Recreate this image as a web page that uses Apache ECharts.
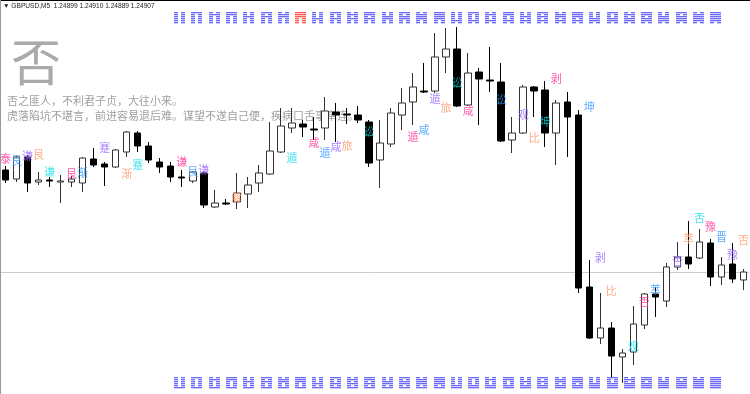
<!DOCTYPE html>
<html><head><meta charset="utf-8">
<script src="https://cdn.jsdelivr.net/npm/echarts@6/dist/echarts.min.js"></script>
<style>html,body{margin:0;padding:0;background:#fff}#c{width:750px;height:394px}</style>
</head><body><div id="c"></div>
<script>
// GBPUSD M5 candles
const opens = [1.25009,1.25000,1.25022,1.24997,1.24999,1.24997,1.24997,1.24996,1.25020,1.25015,
1.25012,1.25027,1.25046,1.25033,1.25017,1.25013,1.25002,1.24998,1.25006,1.24972,
1.24976,1.24977,1.24985,1.24996,1.25005,1.25027,1.25051,1.25055,1.25050,1.25051,
1.25067,1.25065,1.25064,1.25057,1.25019,1.25035,1.25064,1.25077,1.25088,1.25088,
1.25122,1.25130,1.25074,1.25107,1.25099,1.25097,1.25039,1.25046,1.25092,1.25089,
1.25046,1.25077,1.25064,1.24892,1.24841,1.24851,1.24822,1.24827,1.24854,1.24885,
1.24878,1.24912,1.24922,1.24921,1.24936,1.24902,1.24915,1.24899];
const closes = [1.24999,1.25022,1.24996,1.24999,1.24998,1.24998,1.25000,1.25021,1.25014,1.25012,
1.25029,1.25047,1.25033,1.25019,1.25012,1.25002,1.25001,1.25007,1.24974,1.24976,
1.24975,1.24986,1.24994,1.25006,1.25028,1.25053,1.25056,1.25052,1.25049,1.25068,
1.25064,1.25064,1.25059,1.25016,1.25036,1.25066,1.25076,1.25092,1.25087,1.25122,
1.25130,1.25073,1.25106,1.25100,1.25098,1.25038,1.25046,1.25092,1.25088,1.25046,
1.25076,1.25062,1.24891,1.24841,1.24851,1.24823,1.24826,1.24855,1.24885,1.24882,
1.24912,1.24922,1.24915,1.24937,1.24902,1.24914,1.24900,1.24907];
const lows = [1.24996,1.24997,1.24987,1.24994,1.24992,1.24976,1.24992,1.24987,1.25012,1.24993,
1.25011,1.25022,1.25027,1.25016,1.25006,1.24997,1.24992,1.24996,1.24971,1.24971,
1.24974,1.24970,1.24971,1.24987,1.25004,1.25026,1.25046,1.25042,1.25039,1.25039,
1.25037,1.25055,1.25056,1.25012,1.24991,1.25032,1.25049,1.25054,1.25086,1.25086,
1.25106,1.25072,1.25073,1.25054,1.25087,1.25037,1.25026,1.25045,1.25062,1.25032,
1.25014,1.25022,1.24886,1.24840,1.24835,1.24796,1.24796,1.24814,1.24850,1.24862,
1.24872,1.24909,1.24910,1.24920,1.24893,1.24894,1.24896,1.24889];
const highs = [1.25013,1.25023,1.25024,1.25007,1.25002,1.25004,1.25003,1.25022,1.25031,1.25017,
1.25030,1.25048,1.25048,1.25037,1.25021,1.25017,1.25009,1.25008,1.25008,1.24989,
1.24980,1.25006,1.25002,1.25014,1.25057,1.25071,1.25071,1.25059,1.25062,1.25082,
1.25076,1.25071,1.25073,1.25059,1.25059,1.25071,1.25091,1.25106,1.25116,1.25146,
1.25151,1.25152,1.25126,1.25111,1.25132,1.25116,1.25062,1.25094,1.25093,1.25098,
1.25079,1.25087,1.25069,1.24919,1.24886,1.24857,1.24830,1.24873,1.24886,1.24892,
1.24916,1.24937,1.24958,1.24950,1.24940,1.24922,1.24936,1.24910];

// hexagram name labels: candle index, text, price level
const labelIdx = [0,1,2,3,4,6,7,9,11,12,16,17,18,21,26,28,29,30,31,33,37,38,39,40,41,42,45,47,48,49,50,53,54,55,57,58,59,61,62,63,64,65,66,67];
const labelText = ['泰','艮','谦','艮','谦','艮','渐','蹇','渐','蹇','谦','艮','谦','解','遁','咸','遁','咸','旅','讼','遁','咸','遁','旅','讼','咸','讼','观','比','坤','剥','坤','剥','比','观','否','萃','否','萃','否','豫','晋','豫','否'];
const labelPrice = [1.25020,1.25018,1.25023,1.25024,1.25007,1.25005,1.25006,1.25031,1.25005,1.25014,1.25017,1.25007,1.25009,1.24981,1.25021,1.25036,1.25026,1.25032,1.25033,1.25047,1.25042,1.25049,1.25080,1.25071,1.25096,1.25068,1.25079,1.25064,1.25041,1.25057,1.25100,1.25072,1.24921,1.24888,1.24832,1.24877,1.24889,1.24918,1.24940,1.24961,1.24952,1.24942,1.24924,1.24939];

const headerText = '▼ GBPUSD,M5  1.24899 1.24910 1.24889 1.24907';
const bigChar = '否';
const verse1 = '否之匪人，不利君子贞，大往小来。';
const verse2 = '虎落陷坑不堪言，前进容易退后难。谋望不遂自己便，疾病口舌事牵连。';
const currentHex = 7;

const chart = echarts.init(document.getElementById('c'), null, {renderer:'canvas'});
const cats = opens.map((_, i) => String(i));
const candleData = opens.map((o, i) => [o, closes[i], lows[i], highs[i]]);
const palette = ['#ff3399','#3399ff','#9966ff','#ff9966','#18dde8'];
const labelData = labelIdx.map((x, k) => ({value:[x, labelPrice[k]], name: labelText[k], label:{color: palette[k % 5]}}));

const graphics = [];
graphics.push({type:'text', x:3, y:6, z:0, silent:true, style:{text:headerText, fontSize:6.6, fontFamily:'Liberation Sans', fill:'#222', verticalAlign:'middle'}});
graphics.push({type:'text', x:11, y:62, z:0, silent:true, style:{text:bigChar, fontSize:50, fontFamily:'Noto Sans CJK SC', fill:'#aaaaaa', verticalAlign:'middle'}});
graphics.push({type:'text', x:7, y:101, z:0, silent:true, style:{text:verse1, fontSize:11, fontFamily:'Noto Sans CJK SC', fill:'#a0a0a0', verticalAlign:'middle'}});
graphics.push({type:'text', x:7, y:116, z:0, silent:true, style:{text:verse2, fontSize:11, fontFamily:'Noto Sans CJK SC', fill:'#a0a0a0', verticalAlign:'middle'}});
graphics.push({type:'rect', z:100, silent:true, shape:{x:0,y:0,width:750,height:1}, style:{fill:'#000'}});
graphics.push({type:'rect', z:100, silent:true, shape:{x:0,y:0,width:1,height:394}, style:{fill:'#999'}});

function hex(v, x0, y0, hot) {
  const dark = hot ? '#ff5a5a' : '#6a6af6';
  const light = hot ? '#ffc4c4' : '#cdcdff';
  graphics.push({type:'rect', silent:true, z:50, shape:{x:x0, y:y0, width:11, height:12}, style:{fill:light}});
  for (let j = 0; j < 6; j++) {
    const yang = (v >> j) & 1;
    const y = y0 + 2 * j;
    graphics.push({type:'rect', silent:true, z:51, shape:{x:x0, y:y, width:11, height:1}, style:{fill:dark}});
    if (!yang) graphics.push({type:'rect', silent:true, z:52, shape:{x:x0 + 4, y:y, width:3, height:2}, style:{fill:'#ffffff'}});
  }
}
for (let k = 0; k < 32; k++) {
  const x = Math.round(174 + 17.3 * k);
  hex(k, x, 12, k === currentHex);
  hex(32 + k, x, 377, false);
}

chart.setOption({
  animation: false,
  backgroundColor: '#ffffff',
  grid: {left: -4, right: 1, top: 0, bottom: 0},
  xAxis: {type:'category', data: cats, show: false, boundaryGap: true},
  yAxis: {type:'value', min: 1.24785, max: 1.25179, show: false, scale: true},
  graphic: {elements: graphics},
  series: [
    {type:'candlestick', data: candleData, barWidth: 7, z: 3,
     itemStyle: {color:'#ffffff', color0:'#000000', borderColor:'#333333', borderColor0:'#000000', borderWidth:1},
     markLine: {silent:true, symbol:'none', precision:5, z:1, label:{show:false}, lineStyle:{color:'#cccccc', type:'solid', width:1},
       data:[{yAxis: closes[closes.length - 1]}]}},
    {type:'scatter', data: labelData, symbolSize: 1, z: 5, itemStyle:{color:'transparent'},
     label: {show:true, position:'inside', formatter:'{b}', fontSize:11, fontFamily:'Noto Sans CJK SC'}}
  ]
});
</script>
</body></html>
